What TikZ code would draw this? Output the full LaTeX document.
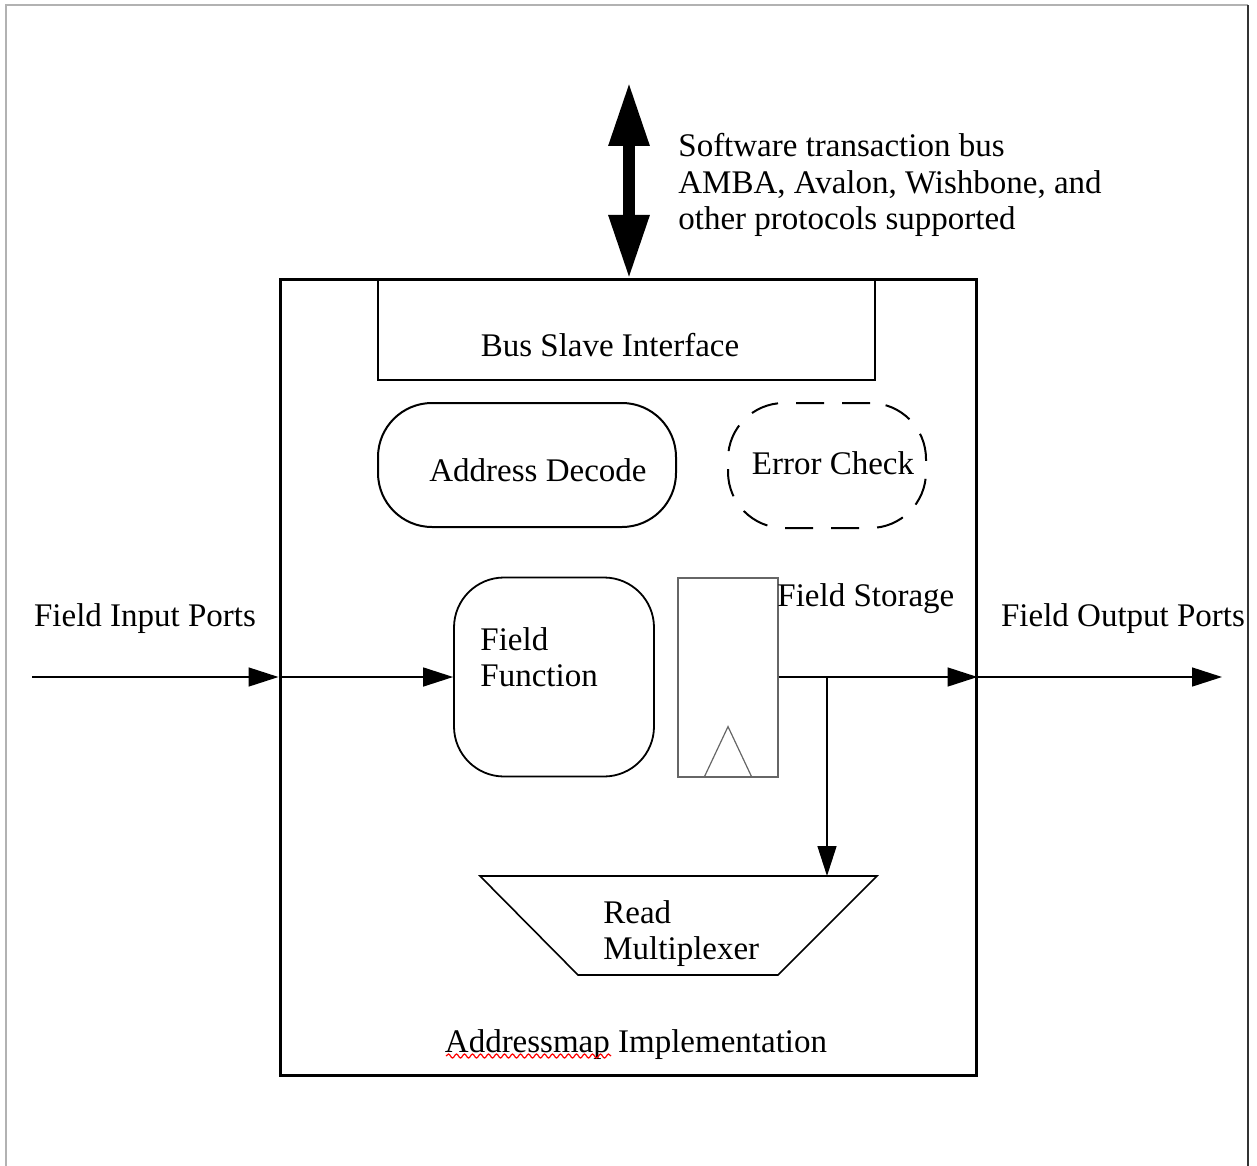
\documentclass[tikz,border=0pt]{standalone}
\usepackage{fontspec}
\setmainfont{Liberation Serif}
\usetikzlibrary{arrows.meta,shapes.geometric,decorations.pathmorphing,calc}
\begin{document}
\begin{tikzpicture}[x=0.5pt,y=-0.5pt,
  every node/.style={font=\fontsize{16.5}{18}\selectfont, inner sep=0pt},
  tip/.style={-{Triangle[length=15pt,width=9.5pt]}},
  wire/.style={line width=0.75pt, tip},
  blk/.style={draw, line width=1pt},
  lbl/.style={align=left}
]
\useasboundingbox (0,0) rectangle (1257,1166);
% page frame
\draw[gray!60, line width=1.2pt] (6,1166) -- (6,5) -- (1248,5);
\draw[black!80, line width=1pt] (1248,5) -- (1248,1166);

% main block
\node[draw, line width=1.5pt, minimum width=348pt, minimum height=398pt] (main) at (628,677) {};
\node (impl) at (636,1045) {Addressmap Implementation};
\draw[red, line width=0.6pt, decorate, decoration={snake, amplitude=1pt, segment length=4pt}] (446,1056) -- (611,1056);

% bus slave interface
\node[blk, minimum width=248.5pt, minimum height=50.5pt] (bsi) at (626.5,329.5) {};
\node (bsit) at (610,345) {Bus Slave Interface};

% address decode
\node[blk, rounded corners=27pt, minimum width=149pt, minimum height=62pt] (ad) at (527,465) {};
\node (adt) at (538,470) {Address Decode};

% error check
\node[draw, line width=1pt, dash pattern=on 14pt off 9pt, rounded corners=28pt, minimum width=99pt, minimum height=62.5pt] (ec) at (827,465.5) {};
\node (ect) at (833,463) {Error Check};

% field function
\node[draw, line width=0.9pt, rounded corners=25pt, minimum width=100pt, minimum height=99.5pt] (ff) at (554,677) {};
\node[lbl, anchor=west] (fft) at (480,657) {Field\\Function};

% field storage
\node[draw, gray!80!black, line width=0.6pt, minimum width=50pt, minimum height=99.5pt] (fs) at (728,677.5) {};
\draw[gray!80!black, line width=0.6pt] ($(fs.south)+(-24,0)$) -- ++(24,-51) -- ++(24,51);
\node[anchor=west] (fst) at (777,599) {Field Storage};

% read multiplexer
\draw[line width=0.8pt] (480,876) -- (877,876) -- (778,975) -- (578,975) -- cycle;
\coordinate (muxtop) at (678,876);
\node[lbl, anchor=west] (muxt) at (603,934) {Read\\Multiplexer};

% ports
\node (fip) at (145,619) {Field Input Ports};
\node (fop) at (1123,619) {Field Output Ports};
\coordinate (in0) at (32,677);
\coordinate (out1) at (1222,677);
\coordinate (br) at (827,677);

\draw[wire] (in0) -- (main.west);
\draw[wire] (main.west) -- (ff.west);
\draw[wire] (fs.east |- br) -- (main.east |- br);
\draw[wire] (main.east |- br) -- (out1);
\draw[wire] (br) -- (br |- muxtop);

% software bus
\coordinate (bus0) at (629,82);
\coordinate (bus1) at (629,279);
\draw[line width=6pt, {Triangle[length=32pt,width=19pt]}-{Triangle[length=32pt,width=19pt]}] (bus0) -- (bus1);
\node[lbl, anchor=north west] (swt) at (678,133) {Software transaction bus\\[0.3pt]AMBA, Avalon, Wishbone, and\\[0.3pt]other protocols supported};
\end{tikzpicture}
\end{document}
